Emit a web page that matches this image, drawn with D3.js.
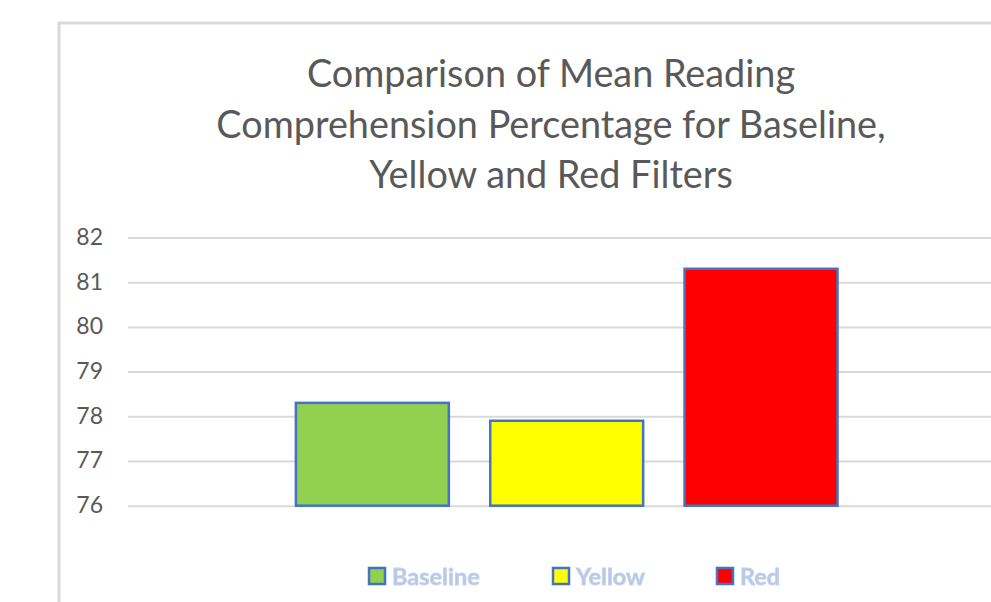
<!DOCTYPE html>
<html>
<head>
<meta charset="utf-8">
<script src="https://cdn.jsdelivr.net/npm/d3@7/dist/d3.min.js"></script>
<style>
  html, body { margin: 0; padding: 0; background: #ffffff; overflow: hidden; }
  svg { display: block; }
</style>
</head>
<body>
<svg id="chart" width="991" height="602"></svg>
<script>
// Chart content
const titleLines = [
  "Comparison of Mean Reading",
  "Comprehension Percentage for Baseline,",
  "Yellow and Red Filters"
];
const categories = ["Baseline", "Yellow", "Red"];
const meanScores = [78.3, 77.9, 81.3];
const barColors = ["#92d050", "#ffff00", "#ff0000"];
const yTicks = [76, 77, 78, 79, 80, 81, 82];

const W = 991, H = 602;
const svg = d3.select("#chart");

const defs = svg.append("defs");
defs.append("filter").attr("id", "soft")
  .attr("x", "-10%").attr("y", "-30%").attr("width", "120%").attr("height", "160%")
  .append("feGaussianBlur").attr("stdDeviation", 0.7);

// Chart frame (extends past the window on the right and bottom)
svg.append("rect")
  .attr("x", 59).attr("y", 23)
  .attr("width", W).attr("height", H)
  .attr("fill", "#ffffff")
  .attr("stroke", "#d9d9d9")
  .attr("stroke-width", 3);

// Scales
const plotLeft = 128, plotRight = W + 10;
const y = d3.scaleLinear().domain([76, 82]).range([505.7, 237.5]);
const x = d3.scaleBand().domain(categories)
  .range([275.2, 858.2])
  .paddingInner(0.213)
  .paddingOuter(0.1065);

// Gridlines
const grid = svg.append("g")
  .attr("transform", `translate(${plotLeft},0)`)
  .call(d3.axisRight(y).tickValues(yTicks).tickSize(plotRight - plotLeft).tickFormat(""));
grid.select(".domain").remove();
grid.selectAll(".tick line").attr("stroke", "#d9d9d9").attr("stroke-width", 2);

// Y axis labels
const yAxis = svg.append("g")
  .attr("transform", `translate(${plotLeft},0)`)
  .call(d3.axisLeft(y).tickValues(yTicks).tickSize(0).tickPadding(25).tickFormat(d3.format("d")));
yAxis.select(".domain").remove();
yAxis.selectAll(".tick text")
  .attr("fill", "#595959")
  .attr("font-family", "Lato, 'Open Sans', sans-serif")
  .attr("font-size", 23)
  .attr("dy", "0.3em");

// Bars
const data = categories.map((c, i) => ({ cat: c, value: meanScores[i], color: barColors[i] }));
svg.append("g").selectAll("rect")
  .data(data)
  .join("rect")
  .attr("x", d => x(d.cat))
  .attr("y", d => y(d.value))
  .attr("width", x.bandwidth())
  .attr("height", d => y(76) - y(d.value))
  .attr("fill", d => d.color)
  .attr("stroke", "#4472c4")
  .attr("stroke-width", 2.5);

// Title
svg.append("g").selectAll("text")
  .data(titleLines)
  .join("text")
  .attr("x", 551)
  .attr("y", (d, i) => 87 + i * 50.7)
  .attr("text-anchor", "middle")
  .attr("fill", "#595959")
  .attr("font-family", "Lato, 'Open Sans', sans-serif")
  .attr("font-size", 37.8)
  .text(d => d);

// Legend
const legendX = [369, 553, 717];
const legend = svg.append("g").selectAll("g")
  .data(data)
  .join("g")
  .attr("transform", (d, i) => `translate(${legendX[i]},568)`);
legend.append("rect")
  .attr("width", 16).attr("height", 16)
  .attr("fill", d => d.color)
  .attr("stroke", "#4472c4")
  .attr("stroke-width", 2.5);
legend.append("text")
  .attr("x", 23)
  .attr("y", 17)
  .attr("fill", "#b8c9e8")
  .attr("stroke", "#c4d2ec")
  .attr("stroke-width", 0.8)
  .attr("font-family", "Lato, 'Open Sans', sans-serif")
  .attr("font-weight", "bold")
  .attr("font-size", 23.5)
  .attr("filter", "url(#soft)")
  .text(d => d.cat);
</script>
</body>
</html>
